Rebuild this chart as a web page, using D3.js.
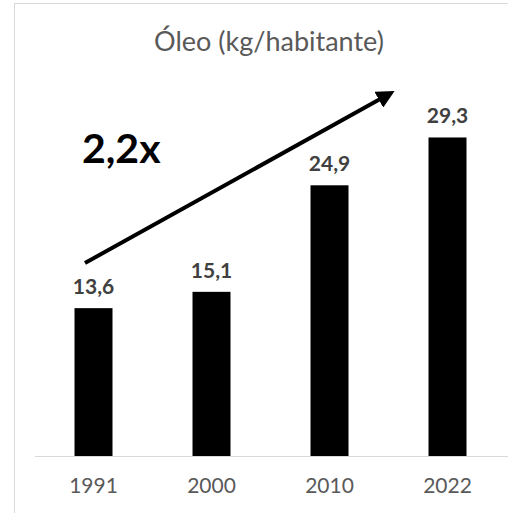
<!DOCTYPE html>
<html>
<head>
<meta charset="utf-8">
<script src="https://cdn.jsdelivr.net/npm/d3@7"></script>
<style>
  html, body { margin: 0; padding: 0; background: #fff; }
  svg { display: block; }
</style>
</head>
<body>
<svg id="chart" width="508" height="513"></svg>
<script>
// Consumo de óleo por habitante
const years = ["1991", "2000", "2010", "2022"];
const values = [13.6, 15.1, 24.9, 29.3];
const valueLabels = ["13,6", "15,1", "24,9", "29,3"];
const title = "Óleo (kg/habitante)";
const growthLabel = "2,2x";

const svg = d3.select("#chart");
const font = "Lato, 'Open Sans', sans-serif";

// chart frame
svg.append("rect")
  .attr("x", 14.5).attr("y", 3.5)
  .attr("width", 530).attr("height", 530)
  .attr("fill", "#fff")
  .attr("stroke", "#d9d9d9")
  .attr("stroke-width", 1);

const x = d3.scaleBand()
  .domain(years)
  .range([34.5, 506.5])
  .paddingInner(0.678)
  .paddingOuter(0.339);

const y = d3.scaleLinear()
  .domain([0, 35])
  .range([456, 75.5]);

// title
svg.append("text")
  .attr("x", 269).attr("y", 51)
  .attr("text-anchor", "middle")
  .attr("font-family", font)
  .attr("font-size", 27)
  .attr("fill", "#595959")
  .text(title);

// bars
svg.selectAll("rect.bar")
  .data(values)
  .join("rect")
  .attr("class", "bar")
  .attr("x", (d, i) => x(years[i]))
  .attr("width", x.bandwidth())
  .attr("y", d => y(d))
  .attr("height", d => y(0) - y(d))
  .attr("fill", "#000");

// value labels
svg.selectAll("text.val")
  .data(values)
  .join("text")
  .attr("class", "val")
  .attr("x", (d, i) => x(years[i]) + x.bandwidth() / 2)
  .attr("y", d => y(d) - 14)
  .attr("text-anchor", "middle")
  .attr("font-family", font)
  .attr("font-weight", "bold")
  .attr("font-size", 21)
  .attr("fill", "#404040")
  .text((d, i) => valueLabels[i]);

// category axis
const xAxis = svg.append("g")
  .attr("transform", `translate(0,${y(0)})`)
  .call(d3.axisBottom(x).tickSize(0).tickPadding(22));
xAxis.select(".domain")
  .attr("d", `M35,0.5H508`)
  .attr("stroke", "#d9d9d9");
xAxis.selectAll("text")
  .attr("font-family", font)
  .attr("font-size", 21)
  .attr("fill", "#595959");

// growth arrow
svg.append("defs").append("marker")
  .attr("id", "head")
  .attr("viewBox", "0 0 10 10")
  .attr("refX", 2).attr("refY", 5)
  .attr("markerWidth", 4.5).attr("markerHeight", 4.5)
  .attr("orient", "auto")
  .attr("markerUnits", "strokeWidth")
  .append("path")
  .attr("d", "M0,0L10,5L0,10Z")
  .attr("fill", "#000");

svg.append("line")
  .attr("x1", 85).attr("y1", 263)
  .attr("x2", 382).attr("y2", 98)
  .attr("stroke", "#000")
  .attr("stroke-width", 4)
  .attr("marker-end", "url(#head)");

svg.append("text")
  .attr("x", 82).attr("y", 163)
  .attr("font-family", font)
  .attr("font-weight", "bold")
  .attr("font-size", 41)
  .attr("fill", "#000")
  .text(growthLabel);
</script>
</body>
</html>
